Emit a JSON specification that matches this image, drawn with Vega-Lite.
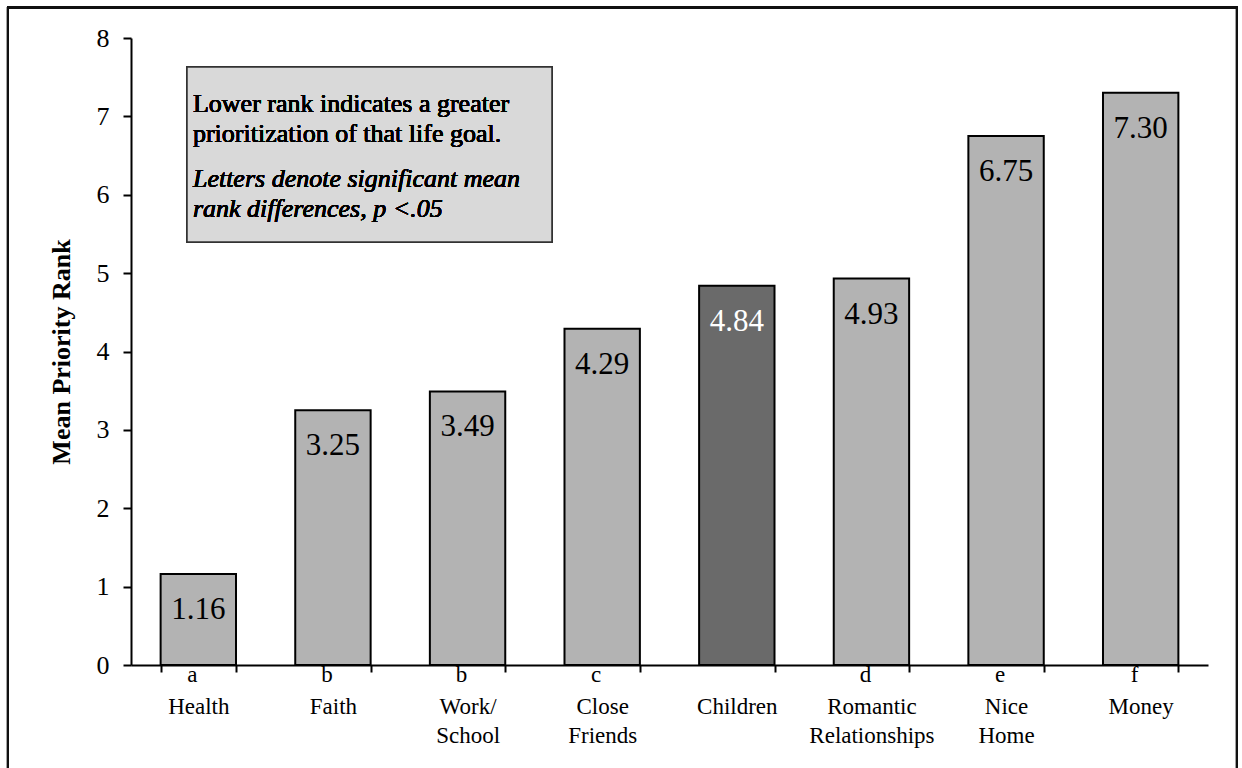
{
  "$schema": "https://vega.github.io/schema/vega-lite/v6.json",
  "width": 1077,
  "height": 627,
  "autosize": {"type": "none"},
  "padding": {"left": 131, "top": 38, "right": 34, "bottom": 103},
  "background": "white",
  "config": {
    "view": {"stroke": null},
    "font": "Times New Roman",
    "text": {"font": "Times New Roman"},
    "mark": {"font": "Times New Roman"}
  },
  "data": {
    "values": [
      {"goal": "Health", "letter": "a", "rank": 1.16},
      {"goal": "Faith", "letter": "b", "rank": 3.25},
      {"goal": "Work/School", "letter": "b", "rank": 3.49},
      {"goal": "Close Friends", "letter": "c", "rank": 4.29},
      {"goal": "Children", "letter": "", "rank": 4.84},
      {"goal": "Romantic Relationships", "letter": "d", "rank": 4.93},
      {"goal": "Nice Home", "letter": "e", "rank": 6.75},
      {"goal": "Money", "letter": "f", "rank": 7.30}
    ]
  },
  "resolve": {"scale": {"x": "independent"}},
  "layer": [
    {
      "encoding": {
        "x": {
          "field": "goal",
          "type": "nominal",
          "sort": null,
          "scale": {"paddingInner": 0.44, "paddingOuter": 0.22},
          "axis": {
            "title": null,
            "labelAngle": 0,
            "labelFont": "Times New Roman",
            "labelFontSize": 23,
            "labelColor": "black",
            "labelLineHeight": 29,
            "labelBaseline": "alphabetic",
            "labelPadding": 41,
            "labelExpr": "split(replace(datum.label, '/', '/ '), ' ')",
            "tickBand": "extent",
            "tickSize": 7,
            "tickColor": "black",
            "tickWidth": 2,
            "domainColor": "black",
            "domainWidth": 2,
            "labelOverlap": false
          }
        },
        "y": {
          "field": "rank",
          "type": "quantitative",
          "scale": {"domain": [0, 8], "nice": false, "zero": false},
          "axis": {
            "title": "Mean Priority Rank",
            "titleFont": "Times New Roman",
            "titleFontSize": 26,
            "titleFontWeight": "bold",
            "titleColor": "black",
            "titlePadding": 22,
            "values": [0, 1, 2, 3, 4, 5, 6, 7, 8],
            "format": "d",
            "grid": false,
            "labelFont": "Times New Roman",
            "labelFontSize": 26,
            "labelColor": "black",
            "labelPadding": 14,
            "tickSize": 8,
            "tickColor": "black",
            "tickWidth": 2,
            "domainColor": "black",
            "domainWidth": 2
          }
        }
      },
      "layer": [
        {
          "mark": {"type": "bar", "stroke": "black", "strokeWidth": 2},
          "encoding": {
            "color": {
              "condition": {"test": "datum.goal === 'Children'", "value": "#6a6a6a"},
              "value": "#b3b3b3"
            }
          }
        },
        {
          "mark": {"type": "text", "baseline": "alphabetic", "dy": 45, "fontSize": 31, "font": "Times New Roman"},
          "encoding": {
            "text": {"field": "rank", "type": "quantitative", "format": ".2f"},
            "color": {
              "condition": {"test": "datum.goal === 'Children'", "value": "white"},
              "value": "black"
            }
          }
        },
        {
          "mark": {"type": "text", "baseline": "alphabetic", "dy": 17, "dx": -6, "fontSize": 23, "color": "black", "font": "Times New Roman"},
          "encoding": {
            "y": {"datum": 0, "type": "quantitative", "scale": {"domain": [0, 8], "nice": false, "zero": false}},
            "text": {"field": "letter"}
          }
        }
      ]
    },
    {
      "layer": [
        {
          "mark": {"type": "rect", "fill": "#d9d9d9", "stroke": "#333333", "strokeWidth": 1.5},
          "encoding": {
            "x": {"datum": 0.416, "type": "quantitative", "scale": {"domain": [0, 8], "nice": false, "zero": false}, "axis": null},
            "x2": {"datum": 3.127},
            "y": {"datum": 7.63, "type": "quantitative", "scale": {"domain": [0, 8], "nice": false, "zero": false}},
            "y2": {"datum": 5.397}
          }
        },
        {
          "mark": {"type": "text", "align": "left", "baseline": "alphabetic", "fontSize": 26, "font": "Times New Roman", "lineHeight": 30, "color": "black"},
          "encoding": {
            "x": {"datum": 0.46, "type": "quantitative", "scale": {"domain": [0, 8], "nice": false, "zero": false}, "axis": null},
            "y": {"datum": 7.05, "type": "quantitative", "scale": {"domain": [0, 8], "nice": false, "zero": false}},
            "text": {"value": ["Lower rank indicates a greater", "prioritization of that life goal."]}
          }
        },
        {
          "mark": {"type": "text", "align": "left", "baseline": "alphabetic", "fontSize": 26, "fontStyle": "italic", "font": "Times New Roman", "lineHeight": 30, "color": "black"},
          "encoding": {
            "x": {"datum": 0.46, "type": "quantitative", "scale": {"domain": [0, 8], "nice": false, "zero": false}, "axis": null},
            "y": {"datum": 6.1, "type": "quantitative", "scale": {"domain": [0, 8], "nice": false, "zero": false}},
            "text": {"value": ["Letters denote significant mean", "rank differences, p <.05"]}
          }
        },
        {
          "mark": {"type": "rect", "fill": null, "fillOpacity": 0, "stroke": "#111111", "strokeWidth": 2},
          "encoding": {
            "x": {"datum": -0.914, "type": "quantitative", "scale": {"domain": [0, 8], "nice": false, "zero": false}, "axis": null},
            "x2": {"datum": 8.215},
            "y": {"datum": 8.39, "type": "quantitative", "scale": {"domain": [0, 8], "nice": false, "zero": false}},
            "y2": {"datum": -1.45}
          }
        }
      ]
    }
  ]
}
